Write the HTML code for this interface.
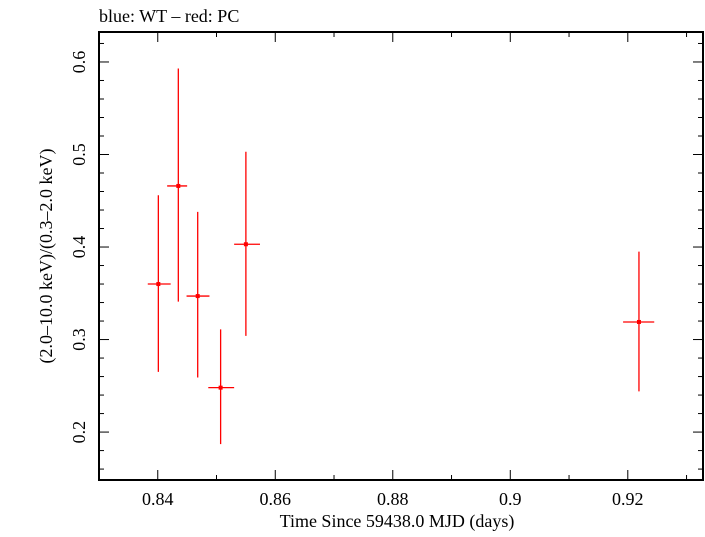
<!DOCTYPE html>
<html><head><meta charset="utf-8"><style>
html,body{margin:0;padding:0;background:#fff;}
svg text{font-family:"Liberation Serif",serif;fill:#000;}
</style></head><body>
<svg id="chart" width="705" height="532" xmlns="http://www.w3.org/2000/svg">
<text x="99" y="22" font-size="18">blue: WT – red: PC</text>
<rect x="99" y="32" width="604" height="448" fill="none" stroke="#000" stroke-width="2"/>
<g id="axes"></g>
<g id="marks"></g>
<text x="397" y="527" font-size="18" text-anchor="middle">Time Since 59438.0 MJD (days)</text>
<text transform="translate(52,256) rotate(-90)" font-size="18" text-anchor="middle">(2.0–10.0 keV)/(0.3–2.0 keV)</text>
</svg>
<script>
const times=[0.8401,0.8435,0.8468,0.8507,0.8550,0.9219];
const timeLo=[0.8383,0.8416,0.8449,0.8486,0.8530,0.9192];
const timeHi=[0.8422,0.8450,0.8488,0.8530,0.8574,0.9245];
const ratios=[0.360,0.466,0.347,0.248,0.403,0.319];
const ratioLo=[0.265,0.341,0.259,0.187,0.304,0.244];
const ratioHi=[0.456,0.593,0.438,0.311,0.503,0.395];
const xTicks=[0.84,0.86,0.88,0.9,0.92];
const xTickLabels=["0.84","0.86","0.88","0.9","0.92"];
const yTicks=[0.2,0.3,0.4,0.5,0.6];
const yTickLabels=["0.2","0.3","0.4","0.5","0.6"];
const X0=99,X1=703,Y0=32,Y1=480,xmin=0.83,xmax=0.9328,ymin=0.1482,ymax=0.6324;
const sx=v=>X0+(v-xmin)/(xmax-xmin)*(X1-X0);
const sy=v=>Y1-(v-ymin)/(ymax-ymin)*(Y1-Y0);
const NS="http://www.w3.org/2000/svg";
function mk(tag,attrs,parent){const e=document.createElementNS(NS,tag);for(const k in attrs)e.setAttribute(k,attrs[k]);parent.appendChild(e);return e;}
const axes=document.getElementById('axes'),marks=document.getElementById('marks');
for(let k=83;k<=93;k++){const x=sx(k/100);const major=k%2===0;const len=major?10:5;
 const t1=mk('line',{x1:x,x2:x,y1:Y1,y2:Y1-len,stroke:'#000','stroke-width':1},axes);
 
 
 const t2=mk('line',{x1:x,x2:x,y1:Y0,y2:Y0+len,stroke:'#000','stroke-width':1},axes);
 
 }
xTicks.forEach((v,i)=>{const t=mk('text',{x:sx(v),y:505,'font-size':18,'text-anchor':'middle'},axes);t.textContent=xTickLabels[i];
 
 });
for(let k=16;k<=62;k+=2){const v=k/100;const y=sy(v);const major=k%10===0;const len=major?10:5;
 const t1=mk('line',{x1:X0,x2:X0+len,y1:y,y2:y,stroke:'#000','stroke-width':1},axes);
 
 
 const t2=mk('line',{x1:X1,x2:X1-len,y1:y,y2:y,stroke:'#000','stroke-width':1},axes);
 
 }
yTicks.forEach((v,i)=>{const t=mk('text',{transform:`translate(85,${sy(v)}) rotate(-90)`,'font-size':18,'text-anchor':'middle'},axes);t.textContent=yTickLabels[i];
 
 });
times.forEach((t,i)=>{const g=mk('g',{},marks);
 
 
 mk('line',{x1:sx(t),x2:sx(t),y1:sy(ratioLo[i]),y2:sy(ratioHi[i]),stroke:'#f00','stroke-width':1.3},g);
 mk('line',{x1:sx(timeLo[i]),x2:sx(timeHi[i]),y1:sy(ratios[i]),y2:sy(ratios[i]),stroke:'#f00','stroke-width':1.3},g);
 mk('rect',{x:sx(t)-2,y:sy(ratios[i])-2,width:4,height:4,fill:'#f00'},g);});
</script>
</body></html>
